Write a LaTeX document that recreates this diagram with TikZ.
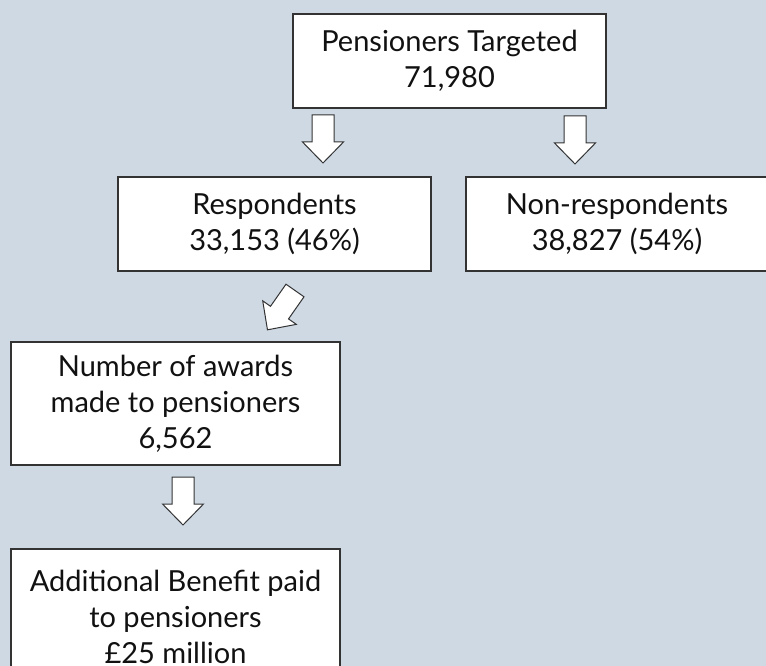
\documentclass[tikz,border=0pt]{standalone}
\usepackage{fontspec}
\setmainfont{Lato}
\definecolor{bg}{HTML}{CED9E4}
\definecolor{boxline}{HTML}{333333}
\definecolor{txt}{HTML}{111111}
\begin{document}
\begin{tikzpicture}[x=1pt,y=-1pt,
  box/.style={draw=boxline, line width=1.2pt, fill=white, inner sep=0pt, align=center, text=txt,
    font=\fontsize{29}{36}\selectfont},
  blk/.style={draw=boxline, line width=1pt, fill=white, line join=miter},
  pics/blockarrow/.style={code={
    \draw[blk] (-11,0) -- (11,0) -- (11,27) -- (20.5,27) -- (0,48) -- (-20.5,27) -- (-11,27) -- cycle;}}]
\useasboundingbox (0,0) rectangle (766,666);
\fill[bg] (0,0) rectangle (766,666);
\clip (0,0) rectangle (766,666);
\node[box, minimum width=313pt, minimum height=94pt] (top) at (449.5,61) {Pensioners Targeted\\71,980};
\node[box, minimum width=313pt, minimum height=94pt] (resp) at (274.5,224) {Respondents\\33,153 (46\%)};
\node[box, minimum width=302pt, minimum height=94pt] (nonresp) at (617,224) {Non-respondents\\38,827 (54\%)};
\node[box, minimum width=329pt, minimum height=123pt] (awards) at (175.5,403.5) {Number of awards\\made to pensioners\\6,562};
\node[box, minimum width=329pt, minimum height=135pt] (benefit) at (175.5,616.5) {Additional Benefit paid\\to pensioners\\£25 million};
\pic at (323,115) {blockarrow};
\pic at (575,116) {blockarrow};
\pic[rotate=-35] at (295,290.5) {blockarrow};
\pic at (183,477) {blockarrow};
\end{tikzpicture}
\end{document}
